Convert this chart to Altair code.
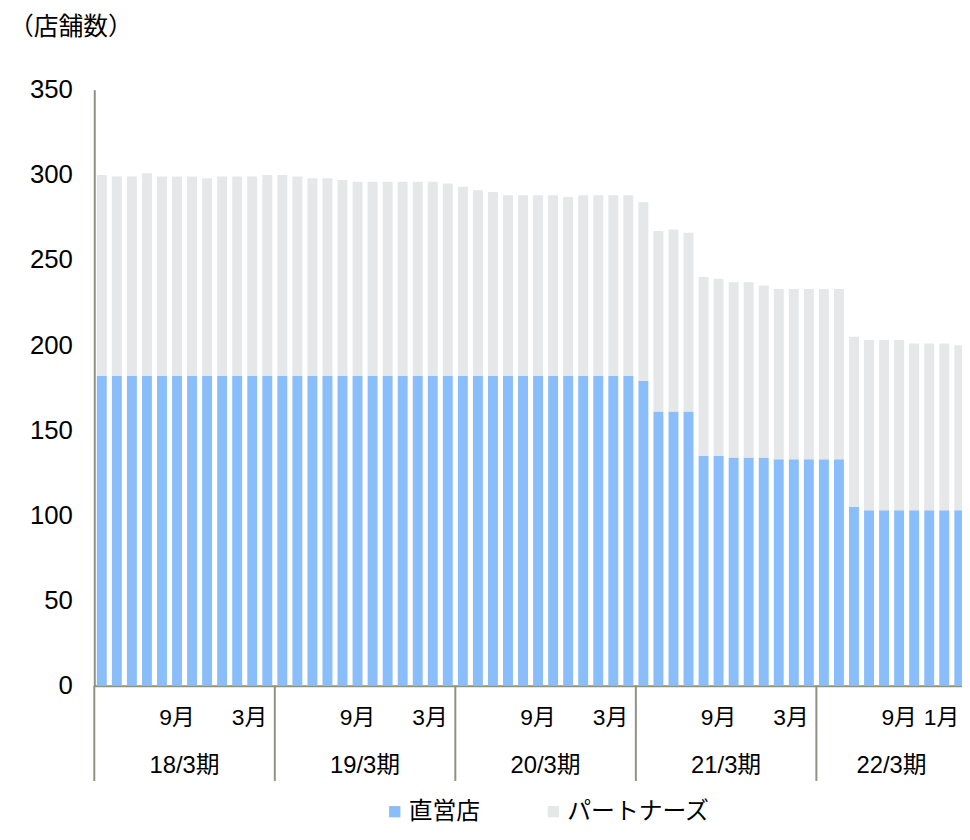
import altair as alt
import pandas as pd

# ---------------- data ----------------
full_year = ["4月", "5月", "6月", "7月", "8月", "9月", "10月", "11月", "12月", "1月", "2月", "3月"]
fiscal_years = ["18/3期", "19/3期", "20/3期", "21/3期", "22/3期"]
months_per_year = [12, 12, 12, 12, 10]
months = full_year * 4 + full_year[:10]

direct = [182, 182, 182, 182, 182, 182, 182, 182, 182, 182, 182, 182,
          182, 182, 182, 182, 182, 182, 182, 182, 182, 182, 182, 182,
          182, 182, 182, 182, 182, 182, 182, 182, 182, 182, 182, 182,
          179, 161, 161, 161, 135, 135, 134, 134, 134, 133, 133, 133,
          133, 133, 105, 103, 103, 103, 103, 103, 103, 103]
partners = [118, 117, 117, 119, 117, 117, 117, 116, 117, 117, 117, 118,
            118, 117, 116, 116, 115, 114, 114, 114, 114, 114, 114, 113,
            111, 109, 108, 106, 106, 106, 106, 105, 106, 106, 106, 106,
            105, 106, 107, 105, 105, 104, 103, 103, 101, 100, 100, 100,
            100, 100, 100, 100, 100, 100, 98, 98, 98, 97]
series_names = ["直営店", "パートナーズ"]
series_colors = ["#8abefa", "#e6e7e9"]
y_ticks = [0, 50, 100, 150, 200, 250, 300, 350]
y_unit_title = "（店舗数）"

# ---------------- layout constants ----------------
FONT = "Liberation Sans, Noto Sans CJK JP, sans-serif"
AXC = "#8e9282"
W, H = 875, 601
XMAX = 57.68          # visible part of the month axis (last bar is cut, as in the original)
BAR_PAD = 0.17

# ---------------- tables ----------------
rows = []
for i, (m, d, p) in enumerate(zip(months, direct, partners)):
    rows.append(dict(idx=i, month=m, series=series_names[0], lo=0, hi=d,
                     x0=i + BAR_PAD, x1=i + 1 - BAR_PAD))
    rows.append(dict(idx=i, month=m, series=series_names[1], lo=d, hi=d + p,
                     x0=i + BAR_PAD, x1=i + 1 - BAR_PAD))
bars_df = pd.DataFrame(rows)

starts, mids = [], []
s = 0
for n in months_per_year:
    starts.append(s)
    mids.append(s + n / 2)
    s += n
years_df = pd.DataFrame({"year": fiscal_years, "start": starts, "mid": mids})

center_labels, right_labels = [], []
for fy, st, n in zip(fiscal_years, starts, months_per_year):
    for k in range(n):
        i = st + k
        if months[i] == "9月":
            center_labels.append(dict(pos=i + 0.5, label=months[i]))
        if k == n - 1:
            right_labels.append(dict(pos=i + 0.5, label=months[i]))
center_df = pd.DataFrame(center_labels)
right_df = pd.DataFrame(right_labels)

xscale = alt.Scale(domain=[0, XMAX], nice=False, zero=False)
xaxis = alt.Axis(labels=False, ticks=False, grid=False, domainColor=AXC,
                 domainWidth=2, title=None)

bars = alt.Chart(bars_df).mark_bar(clip=True).encode(
    x=alt.X("x0:Q", scale=xscale, axis=xaxis),
    x2="x1:Q",
    y=alt.Y("lo:Q", scale=alt.Scale(domain=[0, 350], nice=False),
            axis=alt.Axis(values=y_ticks, labelFontSize=26, labelFont=FONT,
                          labelColor="#000000", labelPadding=22, ticks=False,
                          grid=False, domainColor=AXC, domainWidth=2, title=None)),
    y2="hi:Q",
    color=alt.Color("series:N",
                    scale=alt.Scale(domain=series_names, range=series_colors),
                    sort=series_names,
                    legend=alt.Legend(title=None, orient="none", legendX=291,
                                      legendY=716, direction="horizontal",
                                      symbolType="square", symbolSize=130,
                                      symbolStrokeWidth=0, labelFontSize=24,
                                      labelFont=FONT, labelColor="#000000",
                                      labelOffset=2, columnPadding=62,
                                      padding=0, labelLimit=400)),
)

seps = alt.Chart(years_df).mark_rule(color=AXC, strokeWidth=2).encode(
    x=alt.X("start:Q", scale=xscale, axis=xaxis),
    y=alt.value(H),
    y2=alt.value(H + 96),
)

mlab_c = alt.Chart(center_df).mark_text(
    align="center", baseline="alphabetic", fontSize=23, font=FONT, color="#000000"
).encode(
    x=alt.X("pos:Q", scale=xscale, axis=xaxis),
    y=alt.value(H + 40),
    text="label:N",
)

mlab_r = alt.Chart(right_df).mark_text(
    align="right", baseline="alphabetic", fontSize=23, font=FONT, color="#000000"
).encode(
    x=alt.X("pos:Q", scale=xscale, axis=xaxis),
    y=alt.value(H + 40),
    text="label:N",
)

ylab = alt.Chart(years_df).mark_text(
    align="center", baseline="alphabetic", fontSize=24, font=FONT, color="#000000"
).encode(
    x=alt.X("mid:Q", scale=xscale, axis=xaxis),
    y=alt.value(H + 88),
    text="year:N",
)

title_txt = alt.Chart(pd.DataFrame({"t": [y_unit_title]})).mark_text(
    align="left", baseline="alphabetic", fontSize=25, font=FONT, color="#000000"
).encode(
    x=alt.value(-86),
    y=alt.value(-55),
    text="t:N",
)

chart = alt.layer(bars, seps, mlab_c, mlab_r, ylab, title_txt).properties(
    width=W, height=H,
    padding={"left": 87, "top": 79, "right": 0, "bottom": 138},
    autosize=alt.AutoSizeParams(type="none"),
).configure_view(stroke=None)

chart.save("out.html", embed_options={"renderer": "svg", "actions": False})
